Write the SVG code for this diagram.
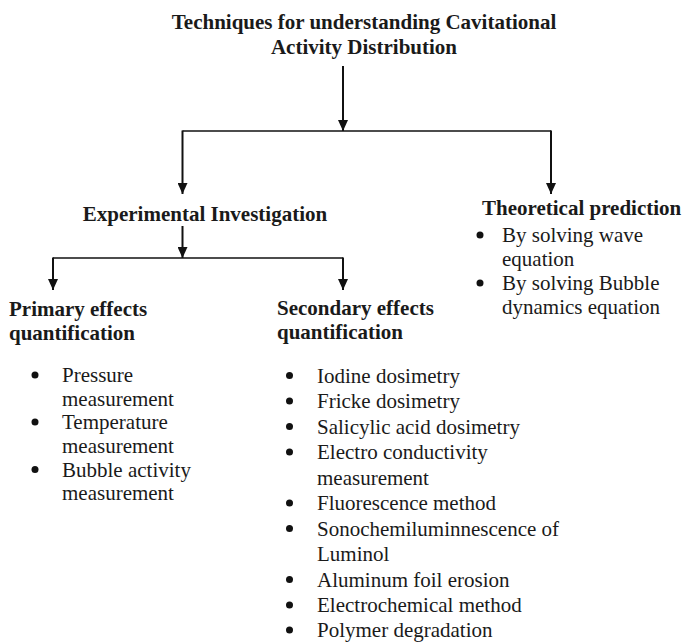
<svg xmlns="http://www.w3.org/2000/svg" width="684" height="643" viewBox="0 0 684 643">
<defs>
<marker id="ah" markerUnits="userSpaceOnUse" markerWidth="12" markerHeight="10" refX="11" refY="5" orient="auto">
<path d="M0,0 L11,5 L0,10 Z" fill="#111"/>
</marker>
<style>
text{font-family:"Liberation Serif","Times New Roman",serif;font-size:21px;fill:#1a1a1a}
.b{font-weight:bold}
.c{text-anchor:middle}
.ln{stroke:#111;stroke-width:2;fill:none}
.h{stroke:#111;stroke-width:1.5;fill:none}
.dot{fill:#111}
</style>
</defs>
<rect width="684" height="643" fill="#fff"/>
<g id="connectors">
<line class="ln" x1="343" y1="66" x2="343" y2="131" marker-end="url(#ah)"/>
<line class="h" x1="182.5" y1="131" x2="551" y2="131"/>
<line class="ln" x1="182.5" y1="130.5" x2="182.5" y2="194" marker-end="url(#ah)"/>
<line class="ln" x1="551" y1="130.5" x2="551" y2="194" marker-end="url(#ah)"/>
<line class="ln" x1="182.5" y1="226" x2="182.5" y2="258" marker-end="url(#ah)"/>
<line class="h" x1="53" y1="258" x2="343" y2="258"/>
<line class="ln" x1="53" y1="257.5" x2="53" y2="290" marker-end="url(#ah)"/>
<line class="ln" x1="343" y1="257.5" x2="343" y2="290" marker-end="url(#ah)"/>
</g>
<g id="title">
<text class="b c" x="364" y="28.5">Techniques for understanding Cavitational</text>
<text class="b c" x="364" y="54">Activity Distribution</text>
</g>
<g id="experimental">
<text class="b c" x="205" y="221">Experimental Investigation</text>
</g>
<g id="theoretical">
<text class="b" x="482" y="215">Theoretical prediction</text>
<circle class="dot" cx="480" cy="235" r="3.5"/>
<text x="502" y="242">By solving wave</text>
<text x="502" y="266">equation</text>
<circle class="dot" cx="480" cy="283" r="3.5"/>
<text x="502" y="290">By solving Bubble</text>
<text x="502" y="314">dynamics equation</text>
</g>
<g id="primary">
<text class="b" x="9" y="315.5">Primary effects</text>
<text class="b" x="9" y="340">quantification</text>
<circle class="dot" cx="35" cy="375" r="3.5"/>
<text x="62" y="382">Pressure</text>
<text x="62" y="405.5">measurement</text>
<circle class="dot" cx="35" cy="422" r="3.5"/>
<text x="62" y="429">Temperature</text>
<text x="62" y="453">measurement</text>
<circle class="dot" cx="35" cy="469.5" r="3.5"/>
<text x="62" y="476.5">Bubble activity</text>
<text x="62" y="500">measurement</text>
</g>
<g id="secondary">
<text class="b" x="277" y="314.5">Secondary effects</text>
<text class="b" x="277" y="338.5">quantification</text>
<circle class="dot" cx="289.5" cy="375.5" r="3.5"/>
<text x="317" y="382.5">Iodine dosimetry</text>
<circle class="dot" cx="289.5" cy="401" r="3.5"/>
<text x="317" y="408">Fricke dosimetry</text>
<circle class="dot" cx="289.5" cy="426.5" r="3.5"/>
<text x="317" y="433.5">Salicylic acid dosimetry</text>
<circle class="dot" cx="289.5" cy="452" r="3.5"/>
<text x="317" y="459">Electro conductivity</text>
<text x="317" y="484.5">measurement</text>
<circle class="dot" cx="289.5" cy="503" r="3.5"/>
<text x="317" y="510">Fluorescence method</text>
<circle class="dot" cx="289.5" cy="528.5" r="3.5"/>
<text x="317" y="535.5">Sonochemiluminnescence of</text>
<text x="317" y="561">Luminol</text>
<circle class="dot" cx="289.5" cy="579.5" r="3.5"/>
<text x="317" y="586.5">Aluminum foil erosion</text>
<circle class="dot" cx="289.5" cy="605" r="3.5"/>
<text x="317" y="612">Electrochemical method</text>
<circle class="dot" cx="289.5" cy="630" r="3.5"/>
<text x="317" y="637">Polymer degradation</text>
</g>
</svg>
